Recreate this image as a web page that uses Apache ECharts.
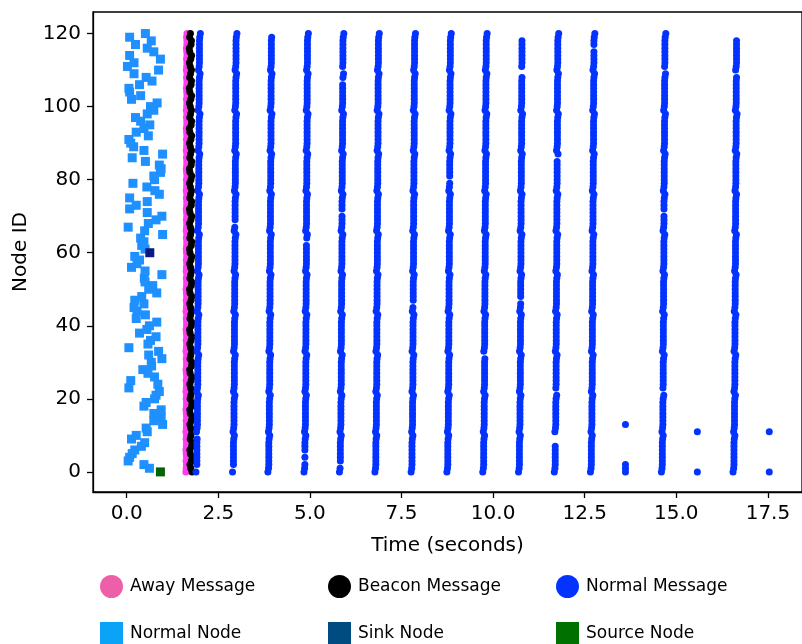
<!DOCTYPE html>
<html>
<head>
<meta charset="utf-8">
<script src="https://cdn.jsdelivr.net/npm/echarts@6/dist/echarts.min.js"></script>
<style>
  html, body { margin: 0; padding: 0; background: #fff; }
  #chart { width: 802px; height: 644px; }
</style>
</head>
<body>
<div id="chart"></div>
<script>
// Start time (s) of every node, indexed by node id 0..120
const nodeTimes = [
  0.92, 0.62, 0.47, 0.04, 0.08, 0.15, 0.22, 0.40, 0.49, 0.13,
  0.26, 0.56, 0.53, 0.98, 0.74, 0.94, 0.74, 0.94, 0.47, 0.53,
  0.76, 0.80, 0.89, 0.06, 0.85, 0.11, 0.76, 0.58, 0.44, 0.68,
  0.67, 0.96, 0.60, 0.87, 0.06, 0.58, 0.65, 0.80, 0.35, 0.55,
  0.62, 0.82, 0.26, 0.51, 0.28, 0.20, 0.47, 0.22, 0.41, 0.82,
  0.60, 0.71, 0.50, 0.48, 0.96, 0.50, 0.13, 0.28, 0.35, 0.22,
  0.63, 0.50, 0.41, 0.47, 0.38, 0.98, 0.49, 0.04, 0.59, 0.80,
  0.96, 0.56, 0.08, 0.26, 0.56, 0.08, 0.89, 0.77, 0.55, 0.17,
  0.76, 0.74, 0.92, 0.94, 0.89, 0.51, 0.15, 0.98, 0.47, 0.19,
  0.11, 0.06, 0.59, 0.26, 0.47, 0.63, 0.38, 0.24, 0.56, 0.74,
  0.65, 0.83, 0.13, 0.38, 0.08, 0.06, 0.35, 0.69, 0.53, 0.20,
  0.87, 0.02, 0.20, 0.92, 0.08, 0.74, 0.56, 0.24, 0.67, 0.08,
  0.51
];
const sinkId = 60;
const sourceId = 0;

// Nodes sit on an 11 x 11 grid: row = floor(id / 11), slot = id % 11
const gridSide = 11;
// Delay (s) of each grid row relative to the top row
const rowLag = [-0.07, -0.055, -0.045, -0.042, -0.036, -0.028, -0.025, -0.018, -0.01, -0.008, 0];
// Delay (s) of each slot inside a row
const slotLag = [-0.025, -0.008, 0, 0, 0, 0, 0, 0, 0, 0.008, 0.025];

// Away message time per grid row, and per slot offset
const awayRowTimes = [1.624, 1.626, 1.627, 1.628, 1.629, 1.631, 1.632, 1.633, 1.634, 1.636, 1.637];
const awaySlot = [-0.01, 0.0, 0.005, -0.005, 0.008, 0.0, -0.008, 0.004, 0.006, -0.004, 0.008];
// Beacon message time per grid row, and per slot offset
const beaconRowTimes = [1.754, 1.752, 1.750, 1.748, 1.747, 1.745, 1.744, 1.743, 1.742, 1.740, 1.739];
const beaconSlot = [0.028, -0.005, -0.028, 0.01, 0.032, -0.018, -0.032, 0.018, 0.028, -0.022, 0.0];

// Normal message rounds: top-row time and the node ids that got no message
const roundTimes = [1.985, 2.983, 3.948, 4.933, 5.901, 6.869, 7.856, 8.833, 9.812, 10.788, 11.765, 12.751, 14.688, 16.643];
const roundMissing = [
  [1, 10], [1, 68], [120], [3, 5, 63], [2, 71, 107, 110], [], [46], [80], [32],
  [47, 109, 110, 119, 120], [8, 9, 10, 22, 86], [116], [22, 71, 110], [109, 119, 120]
];
// Sparse rounds with only a few messages
const strayTimes = [13.612, 15.574, 17.537];
const strayNodes = [[0, 1, 2, 13], [0, 11], [0, 11]];

const xTicks = [0, 2.5, 5, 7.5, 10, 12.5, 15, 17.5];
const yTicks = [0, 20, 40, 60, 80, 100, 120];

// ---- build point lists ----
const nodeCount = nodeTimes.length;
const normalNodes = [], sinkNodes = [], sourceNodes = [];
nodeTimes.forEach((t, id) => {
  if (id === sinkId) sinkNodes.push([t, id]);
  else if (id === sourceId) sourceNodes.push([t, id]);
  else normalNodes.push([t, id]);
});

const awayPts = [], beaconPts = [], normalPts = [];
for (let id = 0; id < nodeCount; id++) {
  const row = Math.floor(id / gridSide), slot = id % gridSide;
  awayPts.push([awayRowTimes[row] + awaySlot[slot], id]);
  beaconPts.push([beaconRowTimes[row] + beaconSlot[slot], id]);
}
roundTimes.forEach((t0, k) => {
  for (let id = 0; id < nodeCount; id++) {
    if (roundMissing[k].includes(id)) continue;
    const row = Math.floor(id / gridSide), slot = id % gridSide;
    normalPts.push([t0 + rowLag[row] + slotLag[slot], id]);
  }
});
strayTimes.forEach((t, k) => {
  strayNodes[k].forEach(id => normalPts.push([t, id]));
});

const FONT = 'DejaVu Sans';
const chart = echarts.init(document.getElementById('chart'), null, { renderer: 'canvas' });

function legendAt(name, left, top, icon, color) {
  return {
    left: left, top: top, padding: 0,
    itemWidth: 27, itemHeight: 23,
    symbolKeepAspect: true,
    selectedMode: false,
    textStyle: { fontFamily: FONT, fontSize: 17, color: '#000' },
    data: [{ name: name, icon: icon, itemStyle: { color: color, borderWidth: 0, opacity: 1 } }]
  };
}
const SQUARE = 'path://M0,0H10V10H0Z';

function dotStyle(color) {
  return { color: color, opacity: 1, borderWidth: 0 };
}

chart.setOption({
  animation: false,
  backgroundColor: '#fff',
  grid: {
    left: 93, top: 12, width: 719, height: 480,
    show: true, borderColor: '#000', borderWidth: 1.3, backgroundColor: 'transparent'
  },
  xAxis: {
    type: 'value', min: -0.92, max: 18.43,
    name: 'Time (seconds)', nameLocation: 'middle', nameGap: 44,
    nameTextStyle: { fontFamily: FONT, fontSize: 20, color: '#000' },
    axisLine: { show: true, onZero: false, lineStyle: { color: '#000', width: 1.3 } },
    axisTick: { show: true, length: 6, lineStyle: { color: '#000', width: 1.3 }, customValues: xTicks },
    axisLabel: {
      customValues: xTicks, margin: 12,
      fontFamily: FONT, fontSize: 20, color: '#000',
      formatter: v => v.toFixed(1)
    },
    splitLine: { show: false }
  },
  yAxis: {
    type: 'value', min: -5.5, max: 125.9,
    name: 'Node ID', nameLocation: 'middle', nameGap: 62, nameRotate: 90,
    nameTextStyle: { fontFamily: FONT, fontSize: 20, color: '#000' },
    axisLine: { show: true, onZero: false, lineStyle: { color: '#000', width: 1.3 } },
    axisTick: { show: true, length: 6, lineStyle: { color: '#000', width: 1.3 }, customValues: yTicks },
    axisLabel: { customValues: yTicks, margin: 12, fontFamily: FONT, fontSize: 20, color: '#000' },
    splitLine: { show: false }
  },
  legend: [
    legendAt('Away Message', 100, 575, 'circle', '#ee5fa7'),
    legendAt('Beacon Message', 328, 575, 'circle', '#000000'),
    legendAt('Normal Message', 556, 575, 'circle', '#0433ff'),
    legendAt('Normal Node', 100, 622, SQUARE, '#0aa3f7'),
    legendAt('Sink Node', 328, 622, SQUARE, '#004c80'),
    legendAt('Source Node', 556, 622, SQUARE, '#007000')
  ],
  series: [
    { name: 'Normal Node', type: 'scatter', symbol: 'rect', symbolSize: 9, z: 2,
      itemStyle: dotStyle('#1e90ff'), data: normalNodes },
    { name: 'Sink Node', type: 'scatter', symbol: 'rect', symbolSize: 9, z: 3,
      itemStyle: dotStyle('#0a1a82'), data: sinkNodes },
    { name: 'Source Node', type: 'scatter', symbol: 'rect', symbolSize: 9, z: 3,
      itemStyle: dotStyle('#006400'), data: sourceNodes },
    { name: 'Away Message', type: 'scatter', symbol: 'circle', symbolSize: 7, z: 4,
      itemStyle: dotStyle('#ff3cf2'), data: awayPts },
    { name: 'Beacon Message', type: 'scatter', symbol: 'circle', symbolSize: 7, z: 5,
      itemStyle: dotStyle('#000000'), data: beaconPts },
    { name: 'Normal Message', type: 'scatter', symbol: 'circle', symbolSize: 7, z: 6,
      itemStyle: dotStyle('#0433ff'), data: normalPts }
  ]
});
</script>
</body>
</html>
